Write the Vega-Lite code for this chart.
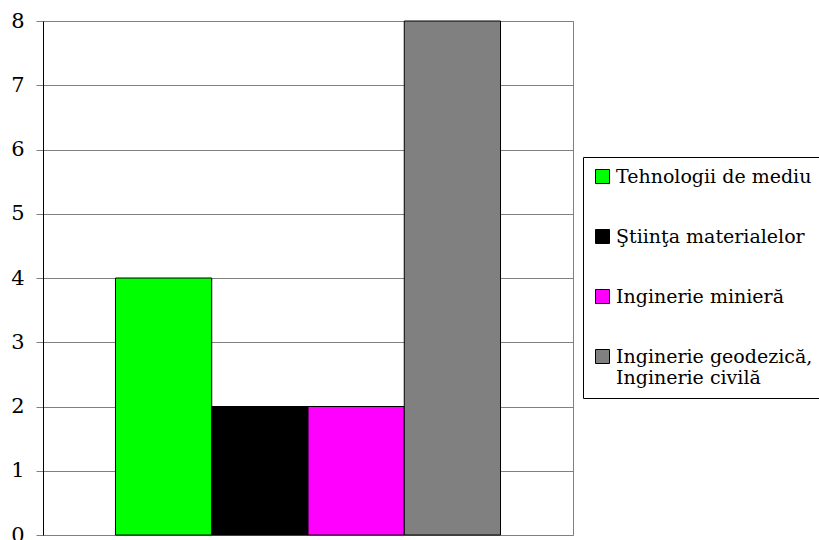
{
  "$schema": "https://vega.github.io/schema/vega-lite/v6.json",
  "width": 530,
  "height": 514,
  "autosize": {"type": "none"},
  "padding": {"left": 43, "top": 21, "right": 246, "bottom": 5},
  "background": "white",
  "config": {"view": {"stroke": "#808080", "strokeWidth": 1}, "font": "DejaVu Serif"},
  "data": {"values": [
    {"category": "Tehnologii de mediu", "value": 4},
    {"category": "Ştiinţa materialelor", "value": 2},
    {"category": "Inginerie minieră", "value": 2},
    {"category": "Inginerie geodezică, Inginerie civilă", "value": 8}
  ]},
  "mark": {"type": "bar", "stroke": "black", "strokeWidth": 1},
  "encoding": {
    "x": {"field": "category", "type": "nominal", "sort": null, "axis": null,
      "scale": {"paddingInner": 0, "paddingOuter": 0.753}},
    "y": {"field": "value", "type": "quantitative", "scale": {"domain": [0, 8]},
      "axis": {"title": null, "values": [0,1,2,3,4,5,6,7,8], "grid": true, "gridColor": "#808080",
        "domainColor": "black", "tickColor": "#808080", "tickSize": 7,
        "labelFont": "DejaVu Serif", "labelFontSize": 21, "labelColor": "black", "labelPadding": 12}},
    "color": {"field": "category", "type": "nominal", "sort": null,
      "scale": {"domain": ["Tehnologii de mediu", "Ştiinţa materialelor", "Inginerie minieră", "Inginerie geodezică, Inginerie civilă"],
        "range": ["#00FF00", "#000000", "#FF00FF", "#808080"]},
      "legend": {"orient": "none", "legendX": 540, "legendY": 136, "title": null,
        "symbolType": "square", "symbolSize": 196, "symbolStrokeColor": "black", "symbolStrokeWidth": 1,
        "symbolOpacity": 1,
        "labelFont": "DejaVu Serif", "labelFontSize": 19, "labelColor": "black", "labelLimit": 400,
        "labelExpr": "datum.label == 'Inginerie geodezică, Inginerie civilă' ? ['Inginerie geodezică,', 'Inginerie civilă'] : datum.label",
        "strokeColor": "black", "fillColor": "white", "padding": 10, "rowPadding": 40, "labelOffset": 4}}
  }
}
